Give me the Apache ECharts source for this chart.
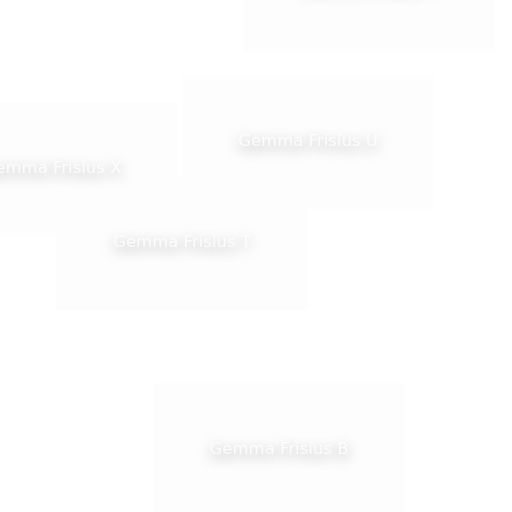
<!DOCTYPE html>
<html>
<head>
<meta charset="utf-8">
<script src="https://cdn.jsdelivr.net/npm/echarts@6/dist/echarts.min.js"></script>
<style>
  html, body { margin: 0; padding: 0; background: #fff; }
  #main { width: 512px; height: 512px; }
</style>
</head>
<body>
<div id="main"></div>
<script>
// node names and their positions (pixel-like units)
var names = ["Gemma Frisius Y", "Gemma Frisius U", "Gemma Frisius X", "Gemma Frisius T", "Gemma Frisius B"];
var xs = [369, 308, 52, 182, 279];
var ys = [-14, 142, 169, 243, 450];

var points = names.map(function (n, i) {
  return { name: n, value: [xs[i], ys[i]] };
});

var myChart = echarts.init(document.getElementById("main"));

var option = {
  backgroundColor: "#ffffff",
  animation: false,
  grid: { left: 0, right: 0, top: 0, bottom: 0 },
  xAxis: { type: "value", min: 0, max: 512, show: false },
  yAxis: { type: "value", min: 0, max: 512, inverse: true, show: false },
  series: [
    {
      // faint boxes behind the names
      type: "scatter",
      clip: false,
      symbol: "rect",
      symbolSize: [252, 134],
      z: 1,
      itemStyle: { color: "#fcfcfc" },
      data: points,
    },
    {
      type: "scatter",
      clip: false,
      symbolSize: 0,
      z: 5,
      label: {
        show: true,
        position: "inside",
        formatter: "{b}",
        color: "#ffffff",
        fontSize: 16.5,
        fontFamily: "DejaVu Sans",
        textShadowColor: "rgba(0,0,0,0.5)",
        textShadowBlur: 14,
        textShadowOffsetY: 4,
      },
      data: points,
    },
  ],
};

myChart.setOption(option);
</script>
</body>
</html>
